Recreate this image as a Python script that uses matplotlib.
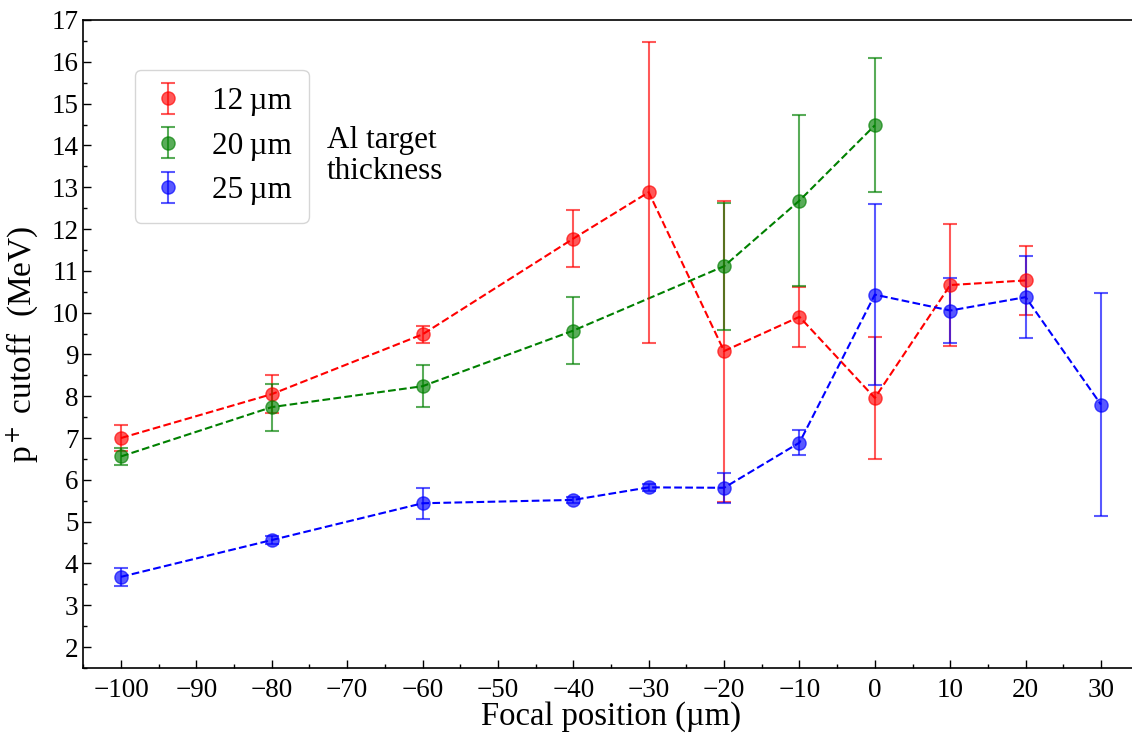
import matplotlib
matplotlib.use("Agg")
import matplotlib.pyplot as plt
from matplotlib.ticker import MultipleLocator

# Data
x_12 = [-100, -80, -60, -40, -30, -20, -10, 0, 10, 20]
y_12 = [7.0, 8.05, 9.48, 11.77, 12.88, 9.08, 9.90, 7.96, 10.66, 10.77]
e_12 = [0.3, 0.45, 0.2, 0.69, 3.6, 3.6, 0.72, 1.46, 1.46, 0.83]

x_20 = [-100, -80, -60, -40, -20, -10, 0]
y_20 = [6.56, 7.74, 8.24, 9.57, 11.11, 12.68, 14.48]
e_20 = [0.2, 0.56, 0.5, 0.8, 1.52, 2.04, 1.6]

x_25 = [-100, -80, -60, -40, -30, -20, -10, 0, 10, 20, 30]
y_25 = [3.68, 4.56, 5.44, 5.52, 5.82, 5.81, 6.89, 10.43, 10.05, 10.37, 7.8]
e_25 = [0.22, 0.1, 0.37, 0.08, 0.08, 0.36, 0.3, 2.17, 0.77, 0.98, 2.67]

labels = ["12\u2009µm", "20\u2009µm", "25\u2009µm"]
colors = ["#ff0000", "#008000", "#0000ff"]
xticks = [-100, -90, -80, -70, -60, -50, -40, -30, -20, -10, 0, 10, 20, 30]

plt.rcParams["font.family"] = ["Liberation Serif", "DejaVu Serif"]
plt.rcParams["mathtext.fontset"] = "stix"

fig = plt.figure(figsize=(11.32, 7.35), dpi=100)
ax = fig.add_axes([0.0736, 0.0912, 0.9323, 0.8816])

series = [(x_12, y_12, e_12), (x_20, y_20, e_20), (x_25, y_25, e_25)]
for (xs, ys, es), c, lab in zip(series, colors, labels):
    ax.plot(xs, ys, ls="--", color=c, lw=1.5, zorder=3)
    ax.errorbar(xs, ys, yerr=es, fmt="o", color=c, ms=9.5, elinewidth=1.5,
                capsize=5, capthick=1.5, alpha=0.65, label=lab, zorder=4)

ax.set_xlim(-105, 35)
ax.set_ylim(1.5, 17)
ax.set_xticks(xticks)
ax.set_xticklabels([str(t).replace("-", "\u2212") for t in xticks])
ax.set_yticks(range(2, 18))
ax.xaxis.set_minor_locator(MultipleLocator(5))
ax.yaxis.set_minor_locator(MultipleLocator(0.5))
ax.tick_params(which="both", direction="in", top=False, right=False, labelsize=19.5)
ax.tick_params(which="major", length=6, width=1)
ax.tick_params(which="minor", length=3, width=1)
ax.tick_params(axis="x", pad=7)
for s in ax.spines.values():
    s.set_linewidth(1.2)

ax.set_xlabel("Focal position (µm)", fontsize=23.5, labelpad=-1)
ax.set_ylabel("p$^+$ cutoff  (MeV)", fontsize=24, labelpad=8)

leg = ax.legend(loc="upper left", bbox_to_anchor=(0.049, 0.923), fontsize=22.5,
                frameon=True, fancybox=True, edgecolor="#cccccc",
                borderaxespad=0, handletextpad=0.9, borderpad=0.55,
                labelspacing=0.5, handlelength=1.0)
ax.text(0.231, 0.79, "Al target\nthickness", transform=ax.transAxes,
        fontsize=22.5, va="center", ha="left", linespacing=1.1)

fig.savefig("out.png", dpi=100)
